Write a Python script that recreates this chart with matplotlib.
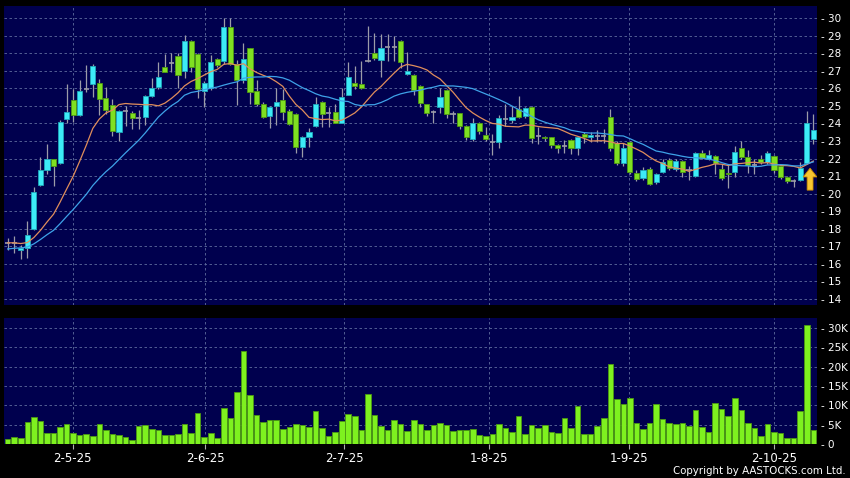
import numpy as np
import pandas as pd
import matplotlib
matplotlib.use("Agg")
import matplotlib.pyplot as plt
from matplotlib.patches import FancyArrow

# daily candles (HKD)
opens = [17.2, 17.2, 16.8, 16.93, 17.97, 20.49, 21.34, 21.95, 21.74, 24.24,
         25.34, 24.49, 25.93, 26.26, 26.3, 25.44, 25.06, 23.5, 24.7, 24.58,
         24.33, 24.38, 25.56, 26.05, 27.23, 27.46, 27.85, 26.98, 28.71, 27.93,
         25.84, 26.0, 27.64, 27.55, 29.51, 27.38, 26.47, 28.27, 25.84, 25.09,
         24.42, 25.0, 25.33, 24.7, 24.52, 22.64, 23.2, 23.85, 25.23, 24.61,
         24.67, 24.04, 25.62, 26.32, 26.22, 27.55, 27.99, 27.61, 28.37, 28.37,
         28.71, 26.81, 26.75, 26.13, 25.09, 24.67, 24.95, 25.9, 24.56, 24.58,
         23.85, 23.09, 24.04, 23.33, 22.96, 22.96, 24.25, 24.19, 24.8, 24.42,
         24.95, 23.28, 23.24, 23.2, 22.77, 22.7, 23.05, 22.58, 23.37, 23.2,
         23.3, 23.3, 24.35, 22.9, 21.76, 22.96, 21.15, 20.91, 21.38, 20.68,
         21.21, 21.92, 21.38, 21.86, 21.34, 21.02, 22.3, 21.97, 22.14, 21.38,
         21.19, 21.25, 22.58, 22.07, 21.63, 21.95, 21.78, 22.14, 21.57, 20.97,
         20.72, 20.77, 21.73, 23.09]
highs = [17.5, 17.6, 17.1, 18.45, 20.4, 22.07, 22.8, 22.0, 24.2, 26.26,
         25.97, 26.49, 27.3, 27.4, 26.5, 26.07, 25.4, 24.75, 25.0, 24.7,
         24.75, 25.6, 26.57, 27.51, 27.93, 27.99, 27.99, 29.03, 28.75, 28.0,
         26.4, 27.9, 27.7, 29.98, 29.98, 27.6, 28.56, 28.3, 26.47, 25.2,
         25.0, 26.0, 25.95, 24.8, 24.6, 23.3, 23.72, 25.48, 25.3, 24.95,
         25.1, 26.0, 27.51, 27.27, 27.55, 29.54, 29.16, 29.1, 29.1, 29.0,
         28.75, 28.08, 26.8, 26.2, 25.1, 24.75, 26.0, 25.95, 24.7, 24.6,
         23.9, 24.3, 24.1, 23.8, 23.4, 24.45, 25.1, 25.0, 25.56, 24.95,
         25.0, 23.8, 23.3, 23.25, 22.8, 23.05, 23.1, 23.25, 23.5, 23.5,
         23.6, 23.7, 24.82, 23.0, 22.9, 23.0, 21.35, 21.5, 21.5, 21.15,
         21.95, 22.05, 21.95, 21.9, 21.55, 22.35, 22.5, 22.5, 22.2, 21.7,
         21.7, 22.71, 23.0, 22.5, 22.0, 22.2, 22.45, 22.2, 21.6, 21.0,
         20.85, 21.82, 24.72, 24.52]
lows = [16.8, 16.6, 16.3, 16.35, 17.95, 20.45, 21.1, 20.45, 21.7, 24.0,
        24.07, 24.4, 25.8, 25.5, 24.5, 24.55, 23.3, 23.02, 23.85, 23.7,
        23.7, 23.9, 25.5, 25.95, 26.9, 26.95, 26.0, 26.6, 26.9, 25.43,
        24.95, 25.9, 27.2, 27.4, 27.3, 25.05, 26.3, 25.09, 25.0, 24.3,
        23.72, 23.9, 24.19, 23.9, 22.3, 22.07, 22.67, 23.8, 23.81, 23.81,
        24.0, 24.0, 25.6, 25.94, 25.95, 27.5, 27.6, 26.62, 27.55, 27.55,
        27.14, 26.75, 25.6, 24.95, 24.4, 24.0, 24.6, 24.3, 24.0, 23.7,
        23.05, 23.0, 23.4, 23.0, 22.2, 22.6, 23.85, 24.0, 24.3, 24.3,
        22.9, 22.85, 23.0, 22.6, 22.3, 22.3, 22.25, 22.2, 22.9, 22.95,
        22.95, 22.9, 22.4, 21.65, 21.6, 21.1, 20.7, 20.8, 20.5, 20.55,
        21.15, 21.35, 21.3, 20.95, 20.8, 20.95, 21.95, 21.9, 21.1, 20.8,
        20.3, 20.95, 22.0, 21.2, 21.1, 21.7, 21.7, 21.15, 20.85, 20.6,
        20.4, 20.7, 21.7, 22.8]
closes = [17.2, 17.2, 16.9, 17.65, 20.07, 21.34, 21.97, 21.55, 24.09, 24.62,
          24.49, 25.82, 25.93, 27.29, 25.4, 24.77, 23.59, 24.7, 24.7, 24.31,
          24.33, 25.56, 26.0, 26.62, 26.94, 27.46, 26.75, 28.69, 27.19, 25.96,
          26.32, 27.48, 27.32, 29.51, 27.38, 26.47, 27.64, 25.8, 25.09, 24.38,
          24.92, 25.23, 24.67, 23.96, 22.64, 23.24, 23.49, 25.1, 24.53, 24.61,
          24.04, 25.52, 26.66, 26.13, 26.0, 27.55, 27.7, 28.31, 28.37, 28.37,
          27.51, 27.0, 25.9, 25.14, 24.58, 24.67, 25.48, 24.52, 24.56, 23.85,
          23.2, 24.04, 23.58, 23.09, 22.96, 24.29, 24.25, 24.35, 24.38, 24.87,
          23.15, 23.28, 23.15, 22.77, 22.58, 22.7, 22.58, 23.2, 23.2, 23.33,
          23.3, 23.3, 22.58, 21.76, 22.62, 21.21, 20.85, 21.34, 20.55, 21.09,
          21.82, 21.44, 21.86, 21.21, 21.34, 22.3, 22.01, 22.18, 21.73, 20.87,
          21.1, 22.39, 22.07, 21.63, 21.63, 21.78, 22.3, 21.34, 20.97, 20.72,
          20.72, 21.44, 24.04, 23.62]
# volume in thousands of shares
volumes = [1.2, 1.8, 1.55, 5.7, 7.0, 5.9, 2.9, 2.75, 4.3, 5.1,
           2.9, 2.25, 2.7, 2.1, 5.25, 3.6, 2.5, 2.4, 1.7, 0.95,
           4.6, 5.0, 3.9, 3.5, 2.25, 2.25, 2.7, 5.2, 2.85, 8.1,
           1.8, 2.9, 1.65, 9.2, 6.8, 13.4, 24.0, 12.7, 7.6, 5.7,
           6.3, 6.3, 3.8, 4.4, 5.25, 5.0, 4.5, 8.45, 4.2, 2.1,
           3.0, 5.95, 7.85, 7.15, 3.7, 12.9, 7.4, 4.75, 3.5, 6.1,
           5.1, 3.35, 6.1, 5.2, 3.5, 4.8, 5.5, 5.0, 3.35, 3.7,
           3.5, 3.8, 2.25, 2.0, 2.6, 5.1, 4.05, 3.0, 7.15, 2.7,
           4.9, 4.05, 4.8, 3.2, 2.9, 6.6, 4.05, 9.8, 2.7, 2.7,
           4.6, 6.8, 20.8, 11.7, 10.4, 12.0, 5.4, 3.8, 5.4, 10.4,
           6.55, 5.35, 5.1, 5.4, 4.6, 8.7, 4.4, 3.0, 10.5, 9.05,
           7.25, 12.0, 8.9, 5.35, 4.2, 2.0, 5.1, 3.0, 2.75, 1.45,
           1.45, 8.5, 30.7, 3.7]
# closes before the visible window (only needed to start the moving averages)
prior_closes = [16.4, 16.5, 16.6, 16.5, 16.4, 16.5, 16.6, 16.5, 16.4, 16.6,
                17.2, 17.3, 17.1, 17.2, 17.3, 17.2, 17.1, 17.2, 17.2]

date_labels = ["2-5-25", "2-6-25", "2-7-25", "1-8-25", "1-9-25", "2-10-25"]
date_pos = [9.9, 30.2, 51.4, 73.5, 94.8, 117.0]
price_ticks = list(range(14, 31))
vol_ticks = [0, 5, 10, 15, 20, 25, 30]

BG = "#00004E"
UP = "#3DEBF7"
UP_EDGE = "#1FA9BC"
DOWN = "#7FE021"
DOWN_EDGE = "#4E9A12"
WICK = "#9C9CA8"
GRID = "#5F6C9E"

o = np.array(opens); h = np.array(highs); l = np.array(lows); c = np.array(closes)
x = np.arange(len(c))

allc = pd.Series(prior_closes + closes)
ma10 = allc.rolling(10).mean().values[len(prior_closes):]
ma20 = allc.rolling(20).mean().values[len(prior_closes):]

fig = plt.figure(figsize=(8.5, 4.78), dpi=100, facecolor="black")
ax = fig.add_axes([0.0047, 0.3619, 0.9568, 0.6255])
axv = fig.add_axes([0.0047, 0.0711, 0.9568, 0.263], sharex=ax)

for a in (ax, axv):
    a.set_facecolor(BG)
    for s in a.spines.values():
        s.set_visible(False)
    a.grid(True, color=GRID, linestyle=(0, (3, 3)), linewidth=0.6)
    a.set_axisbelow(True)

# candles
ax.vlines(x, l, h, color=WICK, linewidth=0.9, zorder=2)
up = c > o
dn = c < o
flat = c == o
ax.bar(x[up], (c - o)[up], bottom=o[up], width=0.78, color=UP,
       edgecolor=UP_EDGE, linewidth=0.6, zorder=3)
ax.bar(x[dn], (o - c)[dn], bottom=c[dn], width=0.78, color=DOWN,
       edgecolor=DOWN_EDGE, linewidth=0.6, zorder=3)
ax.hlines(c[flat], x[flat] - 0.4, x[flat] + 0.4, color=WICK, linewidth=1.2, zorder=3)

ax.plot(x, ma10, color="#E08E5C", linewidth=0.9, zorder=4)
ax.plot(x, ma20, color="#3EA2E8", linewidth=0.9, zorder=4)

# marker arrow under the last candles
ax.add_patch(FancyArrow(122.5, 20.2, 0, 1.25, width=0.9, head_width=2.1,
                        head_length=0.5, length_includes_head=True,
                        facecolor="#F7C531", edgecolor="#C88A00",
                        linewidth=0.6, zorder=5))

ax.set_ylim(13.66, 30.68)
ax.set_xlim(-0.56, 123.6)
ax.yaxis.tick_right()
ax.set_yticks(price_ticks)
ax.set_yticklabels(["- %d" % t for t in price_ticks])
ax.tick_params(axis="y", length=0, pad=3, labelsize=7.5, labelcolor="white")
ax.set_xticks(date_pos)
ax.tick_params(axis="x", length=0, labelbottom=False)

# volume
axv.bar(x, volumes, width=0.85, color="#7EF11F", edgecolor="#4C9A12",
        linewidth=0.6, zorder=3)
axv.set_ylim(0, 32.5)
axv.yaxis.tick_right()
axv.set_yticks(vol_ticks)
axv.set_yticklabels(["- 0"] + ["- %dK" % t for t in vol_ticks[1:]])
axv.tick_params(axis="y", length=0, pad=3, labelsize=7.5, labelcolor="white")
axv.set_xticks(date_pos)
axv.set_xticklabels(date_labels)
axv.tick_params(axis="x", length=3.5, width=0.8, color="#B0B0B0", pad=2,
                labelsize=8.5, labelcolor="white")

fig.text(0.995, 0.004, "Copyright by AASTOCKS.com Ltd.", color="white",
         fontsize=7.4, ha="right", va="bottom")

fig.savefig("out.png", dpi=100, facecolor="black")
